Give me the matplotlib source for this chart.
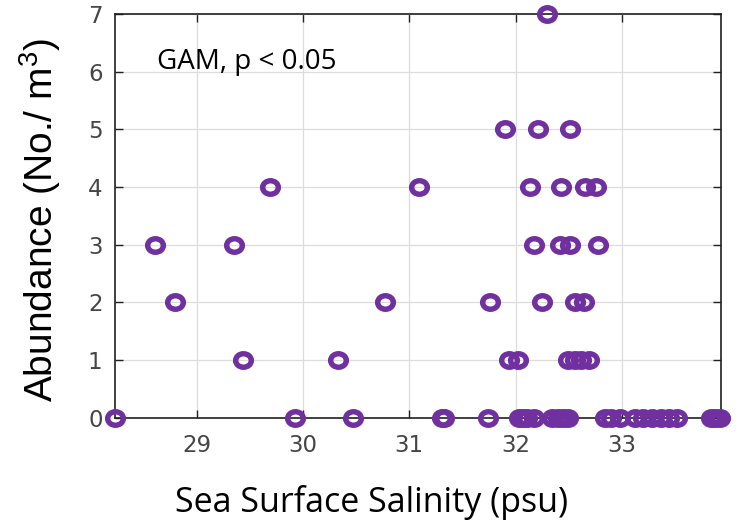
# coding: utf-8
import numpy as np
import matplotlib
matplotlib.use("Agg")
import matplotlib.pyplot as plt
from matplotlib.path import Path

# salinity (psu) of the stations, grouped by abundance (No./m3)
sal_0 = [28.23, 29.92, 30.47, 31.31, 31.33, 31.74, 32.03, 32.07, 32.11, 32.17,
         32.34, 32.40, 32.45, 32.49, 32.84, 32.90, 32.98, 33.12, 33.20, 33.28,
         33.37, 33.44, 33.52, 33.84, 33.88, 33.92]
sal_1 = [29.43, 30.33, 31.94, 32.02, 32.49, 32.56, 32.62, 32.69]
sal_2 = [28.79, 30.77, 31.76, 32.245, 32.56, 32.64]
sal_3 = [28.61, 29.35, 32.17, 32.42, 32.51, 32.78]
sal_4 = [29.69, 31.09, 32.14, 32.43, 32.65, 32.76]
sal_5 = [31.90, 32.21, 32.51]
sal_7 = [32.30]

groups = {0: sal_0, 1: sal_1, 2: sal_2, 3: sal_3, 4: sal_4, 5: sal_5, 7: sal_7}
x_ticks = [29, 30, 31, 32, 33]
y_ticks = [0, 1, 2, 3, 4, 5, 6, 7]

X = np.concatenate([np.array(v, float) for v in groups.values()])
Y = np.concatenate([np.full(len(v), k, float) for k, v in groups.items()])

plt.rcParams['mathtext.default'] = 'regular'

# slightly squashed ring marker (the original figure was stretched)
circ = Path.unit_circle()
ring = Path(circ.vertices * np.array([1.0, 0.86]), circ.codes)

fig = plt.figure(figsize=(7.41, 5.24), dpi=100)
ax = fig.add_axes([0.1552, 0.2029, 0.8174, 0.7704])

ax.plot(X, Y, linestyle='none', marker=ring, markersize=11.3,
        markerfacecolor='none', markeredgecolor='#7030a0',
        markeredgewidth=3.9, clip_on=False, zorder=5)

ax.set_xlim(28.23, 33.93)
ax.set_ylim(0, 7)
ax.set_xticks(x_ticks)
ax.set_yticks(y_ticks)
ax.grid(True, color='#dcdcdc', linewidth=0.9)
ax.set_axisbelow(True)
ax.tick_params(direction='in', length=6, width=1, top=True, right=True,
               labelsize=16.5, colors='#202020', labelcolor='#454545')
ax.tick_params(axis='x', pad=12)
ax.tick_params(axis='y', pad=9)
for lab in ax.get_xticklabels() + ax.get_yticklabels():
    lab.set_family('DejaVu Sans')
for s in ax.spines.values():
    s.set_linewidth(1.2)
    s.set_color('#202020')

ax.text(0.069, 0.881, 'GAM, p < 0.05', transform=ax.transAxes,
        fontsize=20, family='Open Sans', va='center', ha='left')

fig.text(0.054, 0.58, 'Abundance (No./ m$^3$)', rotation=90,
         fontsize=28, family='Liberation Sans', va='center', ha='center')
fig.text(0.502, 0.0229, 'Sea Surface Salinity (psu)',
         fontsize=24.5, family='Open Sans', va='baseline', ha='center')

plt.savefig('out.png', dpi=100)
